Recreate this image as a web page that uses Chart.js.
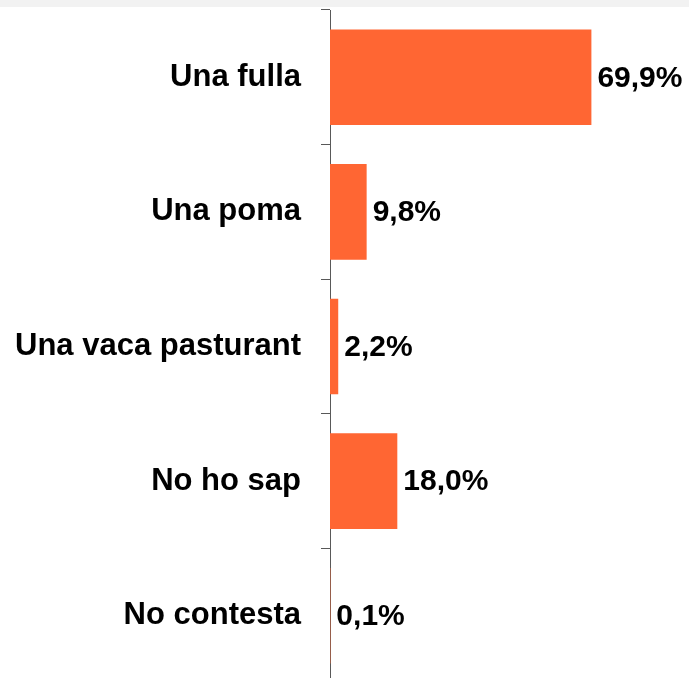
<!DOCTYPE html>
<html>
<head>
<meta charset="utf-8">
<style>
    body {
        margin: 0;
        padding: 0;
        background-color: white;
        overflow: hidden;
    }
    .top_strip {
        position: absolute;
        left: 0;
        top: 0;
        width: 689px;
        height: 7px;
        background-color: #f2f2f2;
    }
    #chart_box {
        position: absolute;
        left: 0;
        top: 0;
        width: 689px;
        height: 683px;
    }
</style>
<script src="https://cdn.jsdelivr.net/npm/chart.js"></script>
</head>
<body>
<div id="chart_box">
    <canvas id="myChart" width="689" height="683"></canvas>
</div>
<div class="top_strip"></div>
<script>
    const categories = ['Una fulla', 'Una poma', 'Una vaca pasturant', 'No ho sap', 'No contesta'];
    const percentages = [69.9, 9.8, 2.2, 18.0, 0.1];

    const fontFamily = "'Liberation Sans', Arial, sans-serif";

    // draws the "69,9%" labels at the end of each bar
    const valueLabels = {
        id: 'valueLabels',
        afterDatasetsDraw(chart) {
            const ctx = chart.ctx;
            const meta = chart.getDatasetMeta(0);
            ctx.save();
            ctx.font = 'bold 30px ' + fontFamily;
            ctx.fillStyle = '#000000';
            ctx.textAlign = 'left';
            ctx.textBaseline = 'middle';
            meta.data.forEach(function (bar, i) {
                const text = percentages[i].toFixed(1).replace('.', ',') + '%';
                ctx.fillText(text, bar.x + 6, bar.y + 1);
            });
            ctx.restore();
        }
    };

    const data = {
        labels: categories,
        datasets: [
            {
                data: percentages,
                backgroundColor: '#ff6633',
                borderWidth: 0,
                barPercentage: 0.71,
                categoryPercentage: 1.0
            }
        ]
    };

    const config = {
        type: 'bar',
        data: data,
        options: {
            indexAxis: 'y',
            responsive: false,
            animation: false,
            layout: {
                padding: { top: 10, right: 0, bottom: 0, left: 0 }
            },
            plugins: {
                legend: { display: false },
                tooltip: { enabled: false }
            },
            scales: {
                x: {
                    display: false,
                    min: 0,
                    max: 96
                },
                y: {
                    afterFit(scale) {
                        // fixed axis width, and no extra room kept for the first/last label
                        scale.width = 330;
                        scale.paddingTop = 0;
                        scale.paddingBottom = 0;
                    },
                    border: {
                        display: true,
                        color: '#595959',
                        width: 1
                    },
                    grid: {
                        drawOnChartArea: false,
                        drawTicks: true,
                        tickLength: 9,
                        color: '#595959',
                        offset: true
                    },
                    ticks: {
                        padding: 20,
                        color: '#000000',
                        font: {
                            family: fontFamily,
                            size: 31,
                            weight: 'bold'
                        }
                    }
                }
            }
        },
        plugins: [valueLabels]
    };

    const myChart = new Chart(document.getElementById('myChart'), config);
</script>
</body>
</html>
